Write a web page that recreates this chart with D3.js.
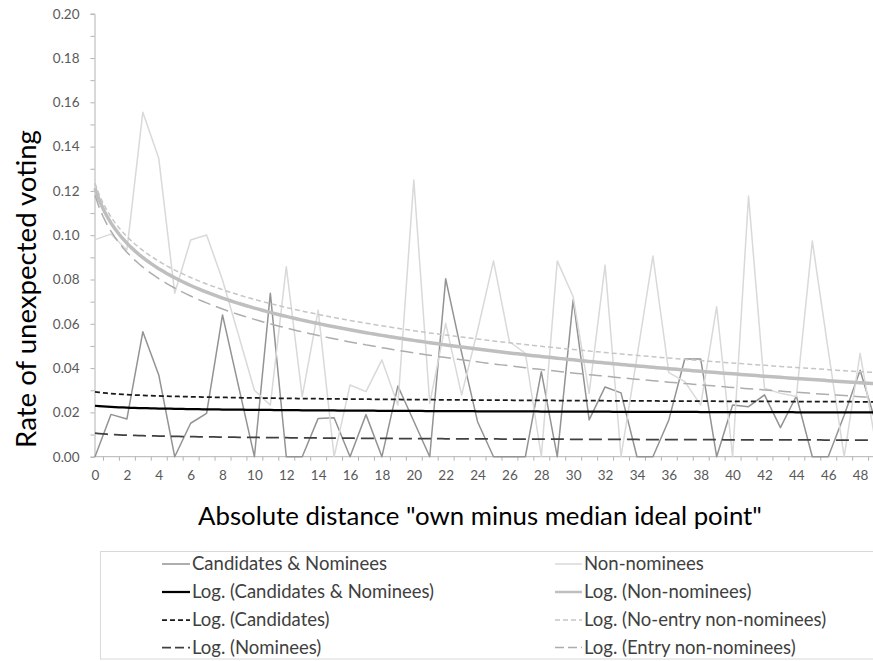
<!DOCTYPE html>
<html>
<head>
<meta charset="utf-8">
<script src="https://cdn.jsdelivr.net/npm/d3@7"></script>
<style>
html,body{margin:0;padding:0;background:#fff;}
svg{display:block;}
text{font-family:Lato,"Open Sans",sans-serif;}
</style>
</head>
<body>
<svg id="chart" width="873" height="661"></svg>
<script>
// ---- data ----
const categories = [0,1,2,3,4,5,6,7,8,9,10,11,12,13,14,15,16,17,18,19,20,21,22,23,24,25,26,27,28,29,30,31,32,33,34,35,36,37,38,39,40,41,42,43,44,45,46,47,48,49];
const candidatesNominees = [0,0.0191,0.017,0.0564,0.0369,0,0.0151,0.0196,0.064,0.032,0,0.0738,0,0,0.0173,0.0176,0,0.019,0,0.0319,0.016,0,0.0803,0.047,0.0158,0,0,0,0.0384,0,0.0709,0.0166,0.0315,0.0288,0,0,0.0166,0.0441,0.0441,0,0.0233,0.0226,0.0279,0.0131,0.0274,0,0,0.0187,0.039,0.015];
const nonNominees = [0.098,0.1005,0.0933,0.1555,0.1347,0.0738,0.0978,0.1001,0.0798,0.055,0.030,0.0233,0.0858,0.0271,0.0662,0,0.0324,0.0294,0.0437,0.0233,0.1249,0.0241,0.0602,0.0279,0.057,0.0884,0.0519,0.0467,0,0.0884,0.0722,0.0286,0.0865,0,0.045,0.0906,0.038,0.0339,0.0233,0.0677,0,0.1177,0.0309,0.0286,0.0272,0.0974,0.048,0,0.0467,0.005];
// logarithmic trendlines: value read at category 0 and at category 48
const trendNames = ["Log. (Candidates & Nominees)","Log. (Candidates)","Log. (Nominees)","Log. (Non-nominees)","Log. (No-entry non-nominees)","Log. (Entry non-nominees)"];
const trendStart = [0.0230,0.0293,0.0106,0.1212,0.1234,0.1180];
const trendEnd   = [0.0200,0.0248,0.0075,0.0334,0.0384,0.0271];
const xTickLabels = [0,2,4,6,8,10,12,14,16,18,20,22,24,26,28,30,32,34,36,38,40,42,44,46,48];
const yTickLabels = ["0.00","0.02","0.04","0.06","0.08","0.10","0.12","0.14","0.16","0.18","0.20"];
const yTickValues = [0,0.02,0.04,0.06,0.08,0.10,0.12,0.14,0.16,0.18,0.20];
const yMinorValues = [0.01,0.03,0.05,0.07,0.09,0.11,0.13,0.15,0.17,0.19];
const legendLeft = ["Candidates & Nominees","Log. (Candidates & Nominees)","Log. (Candidates)","Log. (Nominees)"];
const legendRight = ["Non-nominees","Log. (Non-nominees)","Log. (No-entry non-nominees)","Log. (Entry non-nominees)"];

// ---- styles ----
const seriesStyles = [
  {color:"#939393", width:1.5, dash:null},
  {color:"#d9d9d9", width:1.5, dash:null}
];
const trendStyles = [
  {color:"#000000", width:2.25, dash:null},
  {color:"#1a1a1a", width:1.75, dash:"5,3"},
  {color:"#404040", width:1.75, dash:"13,6"},
  {color:"#bfbfbf", width:3.5, dash:null},
  {color:"#c6c6c6", width:1.5, dash:"5,3"},
  {color:"#adadad", width:1.5, dash:"13,6"}
];

const svg = d3.select("#chart");
const x0 = 95, unit = 15.94;
const x = d3.scaleLinear().domain([0,1]).range([x0, x0+unit]);
const y = d3.scaleLinear().domain([0,0.20]).range([456.7, 13.7]);

const axisColor = "#b3b3b3", labelColor = "#595959";

// y axis
const yAxis = d3.axisLeft(y).tickValues(yTickValues).tickFormat((d,i)=>yTickLabels[i]).tickSize(4).tickPadding(11);
const gy = svg.append("g").attr("transform","translate(94.5,0)").call(yAxis);
gy.select(".domain").attr("stroke",axisColor).attr("stroke-width",1);
gy.selectAll(".tick line").attr("stroke",axisColor);
gy.selectAll(".tick text").attr("fill",labelColor).style("font-size","13.5px").style("font-family","Lato");
const yMinor = d3.axisLeft(y).tickValues(yMinorValues).tickFormat("").tickSize(4);
const gym = svg.append("g").attr("transform","translate(94.5,0)").call(yMinor);
gym.select(".domain").remove();
gym.selectAll(".tick line").attr("stroke",axisColor);

// x axis: ticks between categories, labels every 2 categories
const tickPos = categories.map(c=>c+0.5);
const xAxisTicks = d3.axisBottom(x).tickValues(tickPos).tickFormat("").tickSize(4).tickSizeOuter(0);
const gx = svg.append("g").attr("transform","translate(0,456.7)").call(xAxisTicks);
gx.select(".domain").attr("stroke",axisColor).attr("d","M"+(94.5)+",0H"+x(49.5));
gx.selectAll(".tick line").attr("stroke",axisColor);
const xLab = d3.axisBottom(x).tickValues(xTickLabels).tickFormat(d=>d).tickSize(0).tickPadding(14);
const gxl = svg.append("g").attr("transform","translate(0,456.7)").call(xLab);
gxl.select(".domain").remove();
gxl.selectAll(".tick text").attr("fill",labelColor).style("font-size","13.5px").style("font-family","Lato");

// data series
const line = d3.line().x((d,i)=>x(categories[i])).y(d=>y(d));
[candidatesNominees, nonNominees].forEach((s,k)=>{
  svg.append("path").datum(s).attr("d",line)
    .attr("fill","none").attr("stroke",seriesStyles[k].color)
    .attr("stroke-width",seriesStyles[k].width).attr("stroke-linejoin","round");
});

// trendlines: v(t) = b + a*ln(t+1)
const tSamples = d3.range(0,49.01,0.25);
trendNames.forEach((n,k)=>{
  const b = trendStart[k];
  const a = (trendEnd[k]-trendStart[k])/Math.log(49);
  const pts = tSamples.map(t=>[x(t), y(b + a*Math.log(t+1))]);
  const st = trendStyles[k];
  svg.append("path").attr("d", d3.line()(pts))
    .attr("fill","none").attr("stroke",st.color).attr("stroke-width",st.width)
    .attr("stroke-dasharray",st.dash);
});

// axis titles
function fit(sel, target){
  const w = sel.node().getComputedTextLength();
  const fs = parseFloat(sel.style("font-size"));
  sel.style("font-size",(fs*target/w).toFixed(2)+"px");
}
const yt = svg.append("text").attr("transform","translate(36,289) rotate(-90)")
  .attr("text-anchor","middle").attr("fill","#000").style("font-size","24px")
  .text("Rate of unexpected voting");
fit(yt, 318);
const xt = svg.append("text").attr("x",480).attr("y",525)
  .attr("text-anchor","middle").attr("fill","#000").style("font-size","24px")
  .text("Absolute distance \"own minus median ideal point\"");
fit(xt, 564);

// legend
svg.append("rect").attr("x",100.5).attr("y",551.5).attr("width",800).attr("height",107.5)
  .attr("fill","#fff").attr("stroke","#d9d9d9");
const rowY = [564,592,620,647.5];
const legendStylesLeft = [seriesStyles[0], trendStyles[0], trendStyles[1], trendStyles[2]];
const legendStylesRight = [seriesStyles[1], trendStyles[3], trendStyles[4], trendStyles[5]];
const cols = [
  {names:legendLeft, styles:legendStylesLeft, lx1:162, lx2:190, tx:192},
  {names:legendRight, styles:legendStylesRight, lx1:555, lx2:582, tx:584}
];
let legendFont = 17;
const probe = svg.append("text").style("font-size","17px").text("Log. (Candidates & Nominees)");
legendFont = 17*242/probe.node().getComputedTextLength();
probe.remove();
cols.forEach(c=>{
  c.names.forEach((n,i)=>{
    const st = c.styles[i];
    svg.append("line").attr("x1",c.lx1).attr("x2",c.lx2).attr("y1",rowY[i]).attr("y2",rowY[i])
      .attr("stroke",st.color).attr("stroke-width",Math.min(st.width,2.5))
      .attr("stroke-dasharray", st.dash ? (st.dash==="5,3" ? "5,3" : "9,4") : null);
    svg.append("text").attr("x",c.tx).attr("y",rowY[i]).attr("dy","0.35em")
      .attr("fill","#404040").style("font-size",legendFont.toFixed(2)+"px").text(n);
  });
});
</script>
</body>
</html>
